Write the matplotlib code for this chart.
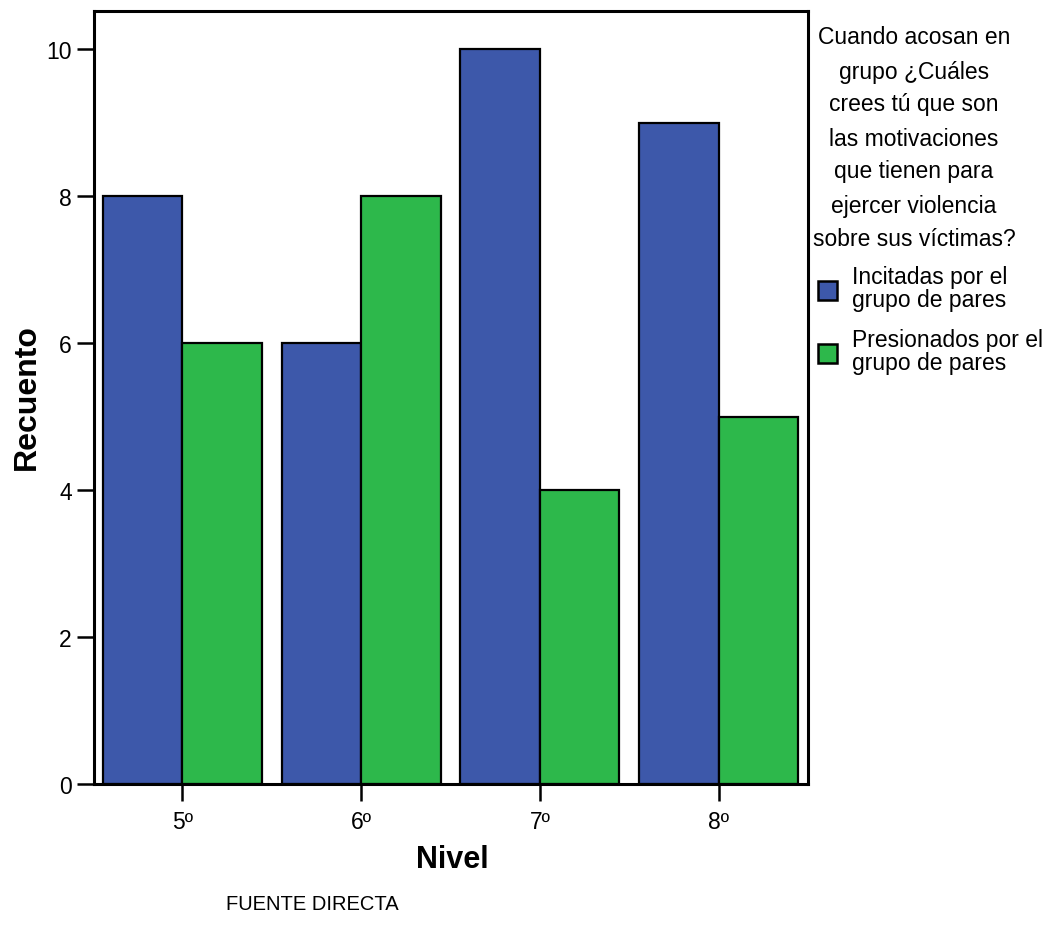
import matplotlib
matplotlib.use("Agg")
import matplotlib.pyplot as plt
import matplotlib.patches as mpatches
import numpy as np

plt.rcParams['font.family'] = ['Liberation Sans', 'DejaVu Sans']

categories = ["5º", "6º", "7º", "8º"]
incitadas = [8, 6, 10, 9]
presionados = [6, 8, 4, 5]
series_labels = ["Incitadas por el\ngrupo de pares", "Presionados por el\ngrupo de pares"]
legend_title_lines = ["Cuando acosan en", "grupo ¿Cuáles", "crees tú que son",
                      "las motivaciones", "que tienen para", "ejercer violencia",
                      "sobre sus víctimas?"]
colors = ["#3D58AA", "#2DB84B"]

W, H = 1052, 928
fig = plt.figure(figsize=(W / 100, H / 100), dpi=100)
ax = fig.add_axes([94 / W, 1 - 785 / H, (808 - 94) / W, (785 - 12) / H])

x = np.arange(len(categories))
bw = 0.445
ax.bar(x - bw / 2, incitadas, width=bw, color=colors[0], edgecolor="black", linewidth=1.6)
ax.bar(x + bw / 2, presionados, width=bw, color=colors[1], edgecolor="black", linewidth=1.6)

ax.set_xlim(-0.495, 3.5)
ax.set_ylim(0, 10.52)
ax.set_yticks([0, 2, 4, 6, 8, 10])
ax.set_xticks(x)
ax.set_xticklabels(categories)
for s in ax.spines.values():
    s.set_linewidth(2.2)
ax.tick_params(axis="both", direction="out", length=12, width=1.8, labelsize=16.5, pad=4)
ax.tick_params(axis="x", pad=7)

fig.text(27 / W, 1 - 397 / H, "Recuento", rotation=90, ha="center", va="center",
         fontsize=23, fontweight="bold")
fig.text(452 / W, 1 - 860 / H, "Nivel", ha="center", va="center",
         fontsize=22, fontweight="bold")
fig.text(312 / W, 1 - 905 / H, "FUENTE DIRECTA", ha="center", va="center", fontsize=14.5)

# legend
ys = [38, 73, 105, 139, 172, 207, 240]
for yy, line in zip(ys, legend_title_lines):
    fig.text(914 / W, 1 - yy / H, line, ha="center", va="center", fontsize=16.5)
for i, (lab, col) in enumerate(zip(series_labels, colors)):
    cy = 291 + i * 63
    fig.patches.append(mpatches.Rectangle((818 / W, 1 - (cy + 10) / H), 19 / W, 19 / H,
                                          transform=fig.transFigure, facecolor=col,
                                          edgecolor="black", linewidth=1.8))
    fig.text(852 / W, 1 - (cy - 2) / H, lab, ha="left", va="center", fontsize=16.5,
             linespacing=1.0)

fig.savefig("out.png", dpi=100)
